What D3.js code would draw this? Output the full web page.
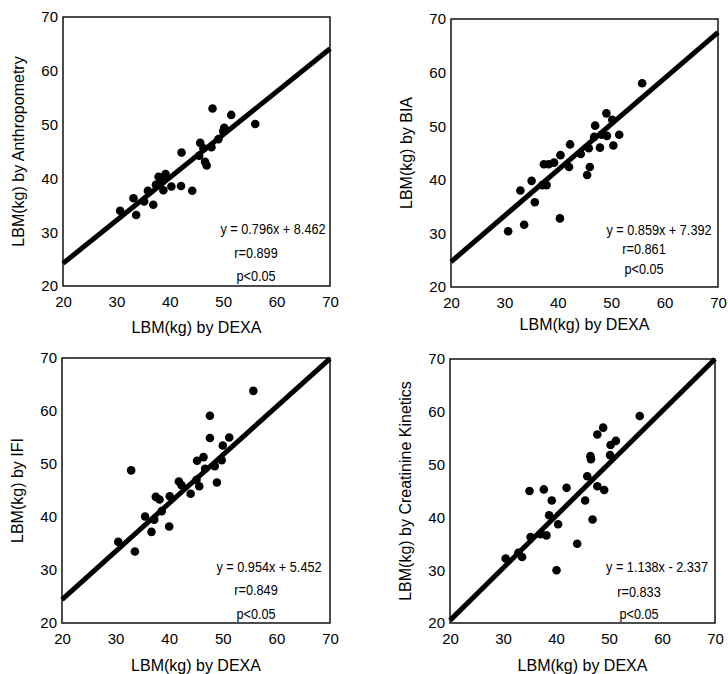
<!DOCTYPE html>
<html>
<head>
<meta charset="utf-8">
<script src="https://cdn.jsdelivr.net/npm/d3@7"></script>
<style>
  body { margin: 0; background: #fff; }
  svg { font-family: "Liberation Sans", Arial, sans-serif; }
</style>
</head>
<body>
<div id="lbm"><svg width="728" height="674"></svg></div>
<script>
// x = LBM by DEXA, y = LBM by the other method
const anthropometryPoints = [[30.7,34.0],[33.2,36.3],[33.7,33.2],[35.2,35.7],[35.9,37.7],[36.9,35.1],[37.4,38.8],[37.9,40.3],[38.5,39.4],[38.8,37.8],[39.2,40.8],[38.2,39.6],[40.3,38.5],[42.1,38.6],[42.2,44.8],[44.2,37.7],[45.5,44.2],[45.7,46.6],[46.3,45.6],[46.6,43.1],[46.9,42.4],[47.8,45.8],[48.0,53.0],[49.1,47.3],[50.2,49.4],[50.0,48.8],[51.5,51.8],[56.0,50.1]];
const biaPoints = [[30.7,30.4],[33.0,38.0],[33.7,31.6],[35.1,39.8],[35.7,35.8],[37.1,39.0],[37.9,39.0],[37.4,42.9],[38.3,42.9],[39.3,43.2],[40.5,44.6],[40.4,32.8],[42.1,42.4],[42.3,46.6],[44.3,44.8],[45.5,40.9],[46.0,42.4],[45.8,45.9],[46.8,48.0],[47.0,50.1],[47.9,46.0],[48.2,48.4],[49.1,52.4],[49.2,48.2],[50.2,51.2],[50.4,46.4],[51.5,48.4],[55.8,58.0]];
const ifiPoints = [[30.5,35.3],[32.9,48.8],[33.6,33.5],[35.5,40.1],[36.7,37.2],[37.2,39.5],[37.5,43.8],[38.2,43.3],[38.6,41.1],[40.0,38.2],[40.1,43.9],[41.8,46.7],[42.3,46.0],[44.0,44.4],[45.1,47.0],[45.6,45.8],[45.2,50.6],[46.4,51.3],[46.7,49.1],[47.6,59.1],[47.6,54.9],[48.5,49.6],[48.9,46.5],[49.8,50.7],[50.0,53.5],[51.2,55.0],[55.7,63.8]];
const creatininePoints = [[30.5,32.2],[32.9,33.3],[33.6,32.5],[35.0,45.0],[35.2,36.3],[37.1,36.8],[37.7,45.3],[38.2,36.6],[38.7,40.4],[39.2,43.2],[40.4,38.7],[40.1,30.0],[42.0,45.6],[44.0,35.0],[45.5,43.2],[45.9,47.8],[46.5,51.6],[46.6,51.0],[46.9,39.6],[47.8,55.7],[47.8,45.9],[48.9,57.0],[49.1,45.2],[50.2,51.8],[50.3,53.7],[51.3,54.5],[55.8,59.2]];

const yTitles = ["LBM(kg) by Anthropometry", "LBM(kg) by BIA", "LBM(kg) by IFI", "LBM(kg) by Creatinine Kinetics"];
const xTitle = "LBM(kg) by DEXA";
const equations = ["y = 0.796x + 8.462", "y = 0.859x + 7.392", "y = 0.954x + 5.452", "y = 1.138x - 2.337"];
const rValues = ["r=0.899", "r=0.861", "r=0.849", "r=0.833"];
const pValue = "p<0.05";
// fitted line as printed: y at x=20 and at x=70
const fitStart = [24.2, 24.7, 24.4, 20.5];
const fitEnd = [64.1, 67.5, 69.9, 70];
const ticks = [20, 30, 40, 50, 60, 70];

const lbmChart = (function (svg) {
    const allPoints = [anthropometryPoints, biaPoints, ifiPoints, creatininePoints];

    // plot boxes in page pixels
    const panels = [
        {left: 63, right: 330, top: 17, bottom: 286, titleDy: 41, notes: [-57, -33, -10], noteX: [-57, -74]},
        {left: 451, right: 718, top: 19, bottom: 287, titleDy: 37, notes: [-57, -38, -18], noteX: [-59, -74]},
        {left: 62, right: 330, top: 358, bottom: 623, titleDy: 42, notes: [-56, -33, -9], noteX: [-61, -74]},
        {left: 450, right: 715, top: 359, bottom: 623, titleDy: 42, notes: [-56, -31, -9], noteX: [-58, -76]}
    ];

    const lbmChart = {
        canvas: svg,
        draw: function () {
            panels.forEach(function (p, i) {
                lbmChart.panel(p, i);
            });
        },
        panel: function (p, i) {
            const g = lbmChart.canvas.append("g");

            const x = d3.scaleLinear().domain([20, 70]).range([p.left, p.right]);
            const y = d3.scaleLinear().domain([20, 70]).range([p.bottom, p.top]);

            const xAxis = g.append("g")
                .attr("transform", "translate(0," + p.bottom + ")")
                .call(d3.axisBottom(x).tickValues(ticks).tickSize(0).tickPadding(10));
            const yAxis = g.append("g")
                .attr("transform", "translate(" + p.left + ",0)")
                .call(d3.axisLeft(y).tickValues(ticks).tickSize(0).tickPadding(5));

            [xAxis, yAxis].forEach(function (a) {
                a.select(".domain").remove();
                a.selectAll("text")
                    .attr("font-size", 15)
                    .attr("font-family", "Liberation Sans, Arial, sans-serif")
                    .attr("fill", "#000");
            });

            g.append("rect")
                .attr("x", p.left)
                .attr("y", p.top)
                .attr("width", p.right - p.left)
                .attr("height", p.bottom - p.top)
                .attr("fill", "none")
                .attr("stroke", "#000")
                .attr("stroke-width", 1.4);

            // regression line
            g.append("line")
                .attr("x1", x(20))
                .attr("y1", y(fitStart[i]))
                .attr("x2", x(70))
                .attr("y2", y(fitEnd[i]))
                .attr("stroke", "#000")
                .attr("stroke-width", 5);

            g.append("g")
                .selectAll("circle")
                .data(allPoints[i])
                .enter()
                .append("circle")
                .attr("cx", function (d) { return x(d[0]); })
                .attr("cy", function (d) { return y(d[1]); })
                .attr("r", 4.3)
                .attr("fill", "#000");

            // axis titles
            g.append("text")
                .attr("x", (p.left + p.right) / 2)
                .attr("y", p.bottom + p.titleDy)
                .attr("dy", "0.35em")
                .attr("text-anchor", "middle")
                .attr("font-size", 16)
                .text(xTitle);

            g.append("text")
                .attr("transform", "translate(" + (p.left - 45) + "," + ((p.top + p.bottom) / 2) + ") rotate(-90)")
                .attr("dy", "0.35em")
                .attr("text-anchor", "middle")
                .attr("font-size", 16)
                .text(yTitles[i]);

            // equation, r and p, in a squeezed type
            const notes = [equations[i], rValues[i], pValue];
            notes.forEach(function (t, k) {
                const cx = p.right + (k === 0 ? p.noteX[0] : p.noteX[1]);
                const cy = p.bottom + p.notes[k];
                g.append("g")
                    .attr("transform", "translate(" + cx + "," + cy + ") scale(0.82,1)")
                    .append("text")
                    .attr("dy", "0.35em")
                    .attr("text-anchor", "middle")
                    .attr("font-size", 15.5)
                    .text(t);
            });
        }
    };
    lbmChart.draw();
    return lbmChart;
})(d3.select("#lbm svg"));
</script>
</body>
</html>
